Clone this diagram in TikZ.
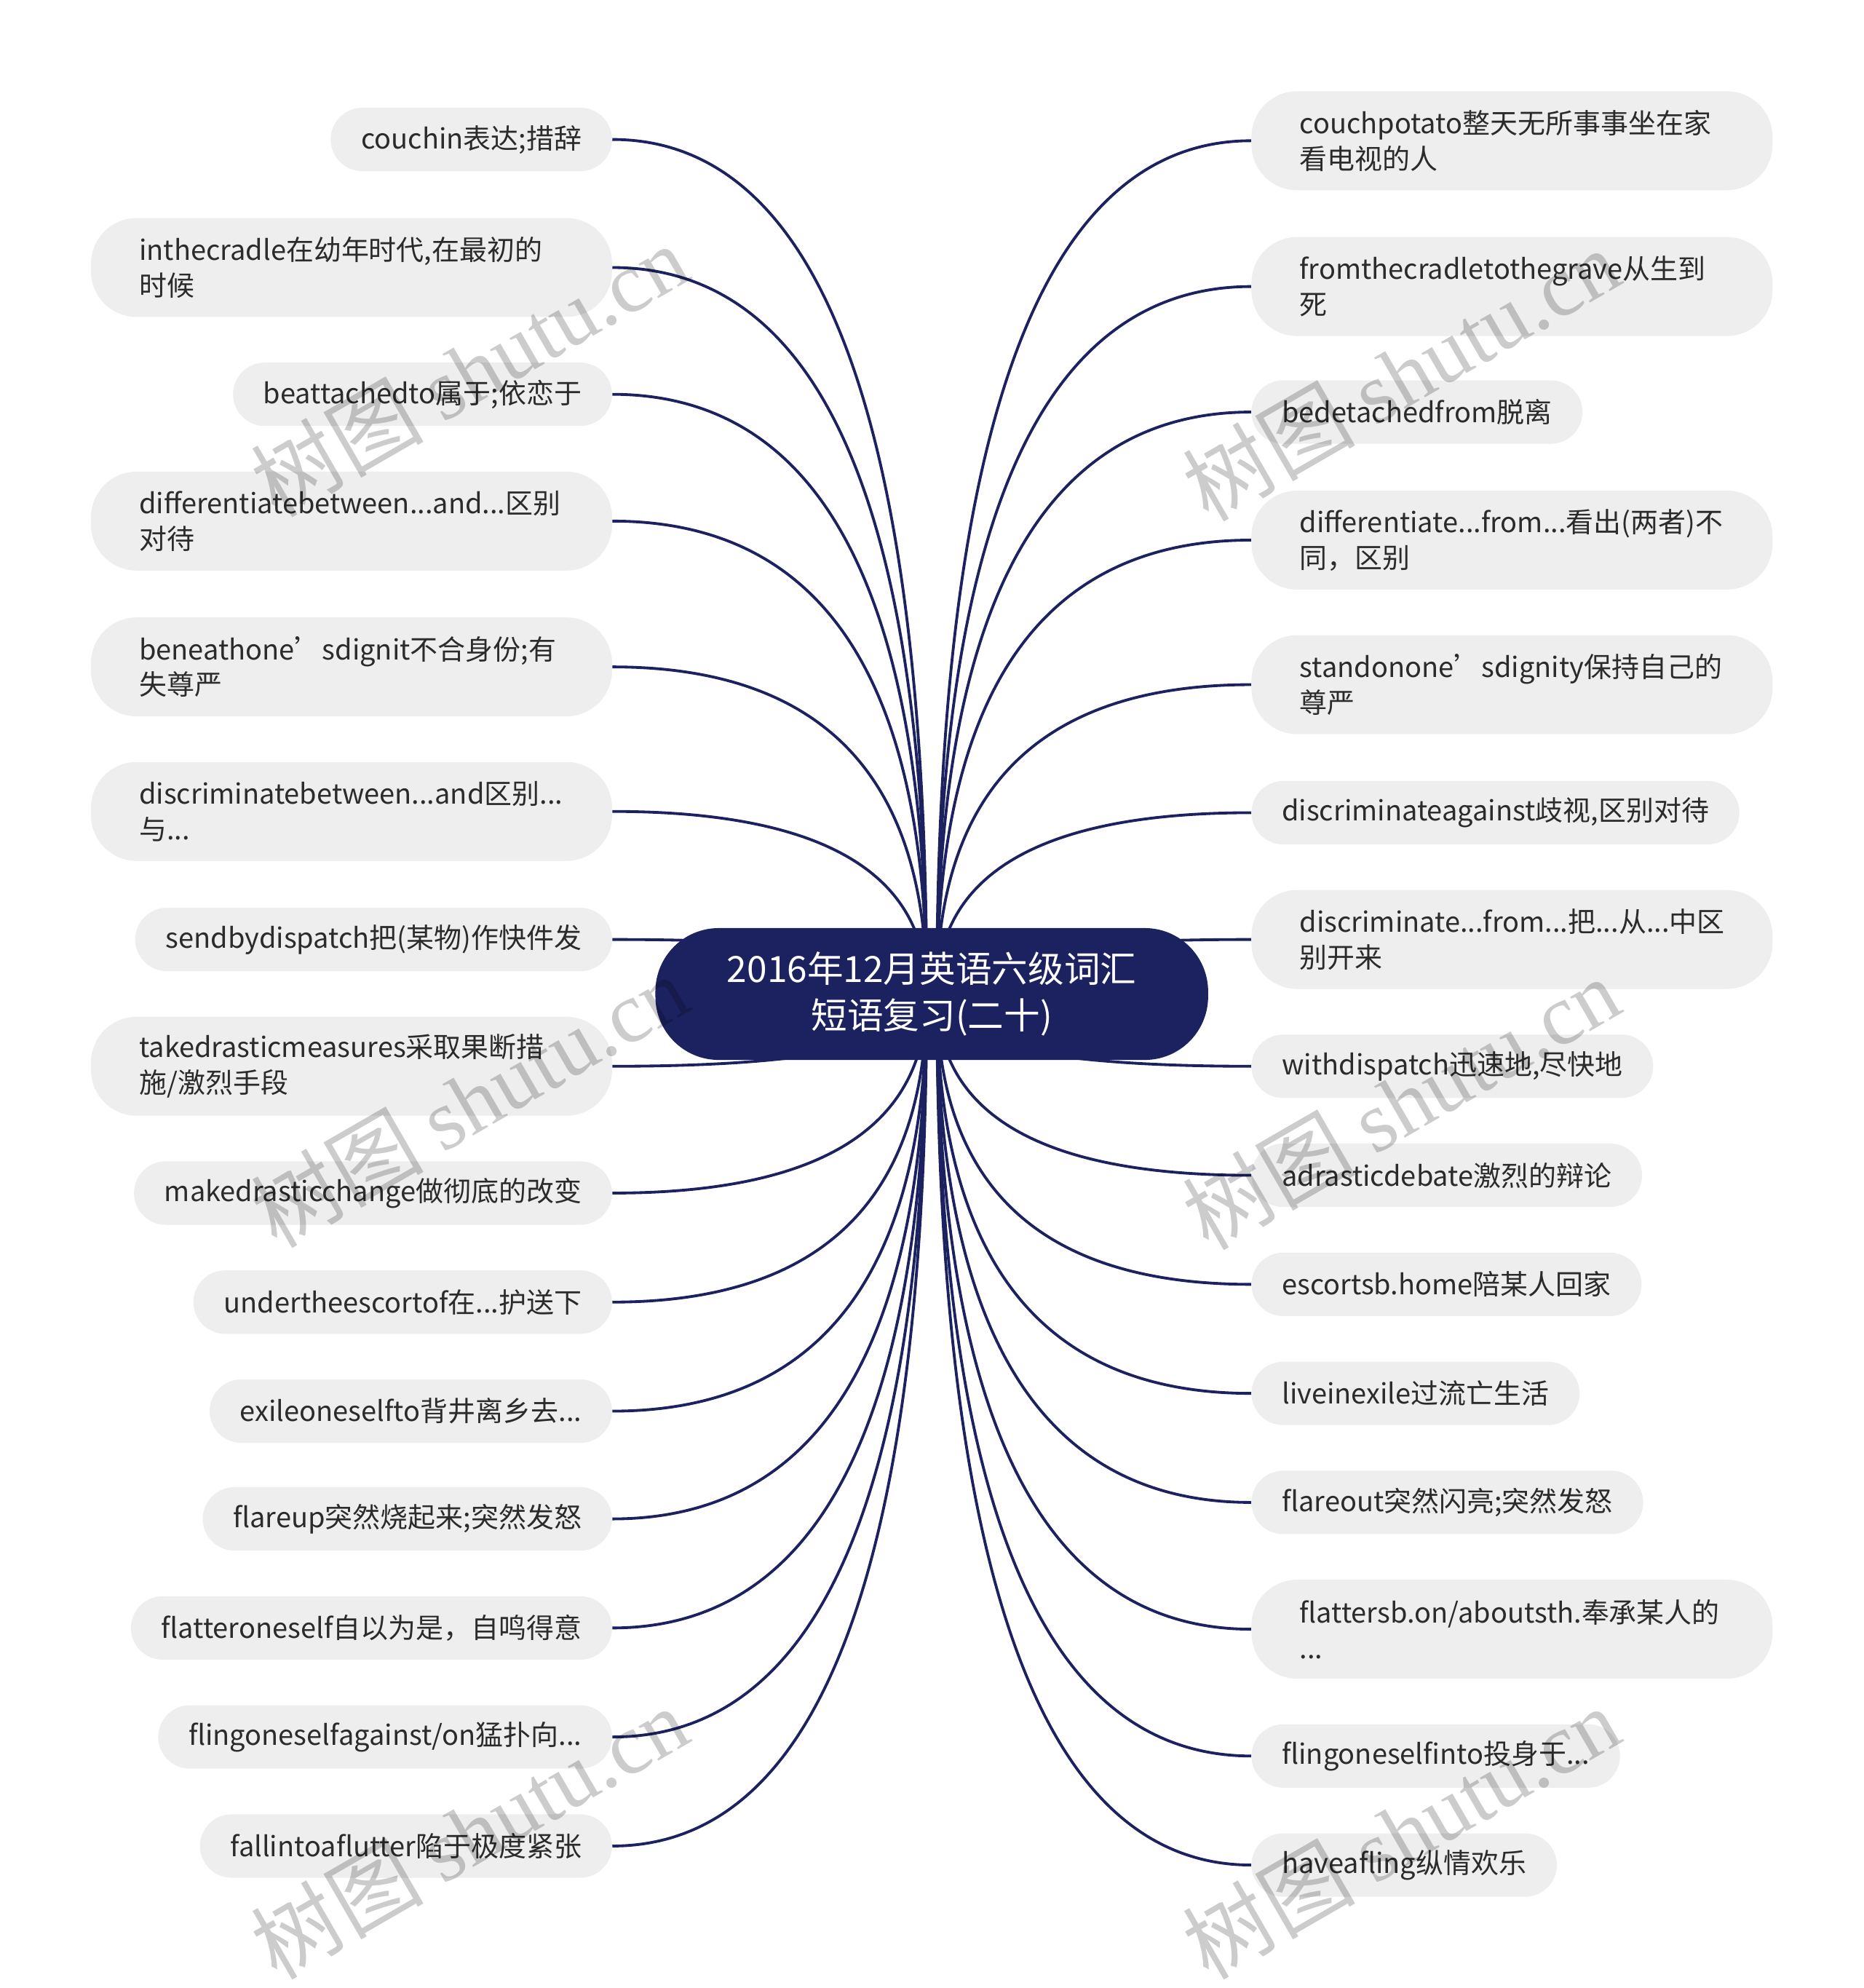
\documentclass[tikz,border=0pt]{standalone}
\usepackage{fontspec}
\setmainfont{Noto Sans CJK SC}
\newfontfamily\wmserif{Liberation Serif}
\usetikzlibrary{calc}
\definecolor{navy}{HTML}{1C2260}
\definecolor{boxgray}{HTML}{EEEEEE}
\definecolor{txt}{HTML}{2B2B2B}
\pgfdeclarelayer{bg}
\pgfsetlayers{bg,main}
\tikzset{
  leaf/.style={fill=boxgray, text=txt, font=\fontsize{21.8}{28}\selectfont,
    inner ysep=0pt, inner xsep=24pt, minimum height=50pt, rounded corners=25pt},
  leaftwo/.style={leaf, text width=335pt, align=left, inner xsep=38pt,
    minimum height=78pt, rounded corners=36pt},
  lft/.style={anchor=east},
  rgt/.style={anchor=west},
  link/.style={draw=navy, line width=2.2pt},
  root/.style={fill=navy, text=white, font=\fontsize{28.5}{37}\selectfont, align=center,
    minimum width=436pt, minimum height=104pt, inner sep=0pt, rounded corners=50pt},
  wm/.style={text=black, text opacity=0.2, font=\fontsize{68}{68}\selectfont, rotate=30, inner sep=0pt}
}
\begin{document}
\begin{tikzpicture}[x=1pt,y=-1pt]
\useasboundingbox (0,0) rectangle (1470,1568);

\node[root] (C) at (735,784) {2016年12月英语六级词汇\\短语复习(二十)};
\coordinate (cl) at ($(C.center)+(-4,0)$);
\coordinate (cr) at ($(C.center)+(4,0)$);

% left side
\node[leaf,lft] (L1) at (483,110) {couchin表达;措辞};
\node[leaftwo,lft] (L2) at (483,211) {inthecradle在幼年时代,在最初的\\时候};
\node[leaf,lft] (L3) at (483,311) {beattachedto属于;依恋于};
\node[leaftwo,lft] (L4) at (483,411) {differentiatebetween...and...区别\\对待};
\node[leaftwo,lft] (L5) at (483,526) {beneathone’sdignit不合身份;有\\失尊严};
\node[leaftwo,lft] (L6) at (483,640) {discriminatebetween...and区别...\\与...};
\node[leaf,lft] (L7) at (483,741) {sendbydispatch把(某物)作快件发};
\node[leaftwo,lft] (L8) at (483,841) {takedrasticmeasures采取果断措\\施/激烈手段};
\node[leaf,lft] (L9) at (483,941) {makedrasticchange做彻底的改变};
\node[leaf,lft] (L10) at (483,1027) {undertheescortof在...护送下};
\node[leaf,lft] (L11) at (483,1113) {exileoneselfto背井离乡去...};
\node[leaf,lft] (L12) at (483,1198) {flareup突然烧起来;突然发怒};
\node[leaf,lft] (L13) at (483,1284) {flatteroneself自以为是，自鸣得意};
\node[leaf,lft] (L14) at (483,1370) {flingoneselfagainst/on猛扑向...};
\node[leaf,lft] (L15) at (483,1456) {fallintoaflutter陷于极度紧张};

% right side
\node[leaftwo,rgt] (R1) at (987,111) {couchpotato整天无所事事坐在家\\看电视的人};
\node[leaftwo,rgt] (R2) at (987,226) {fromthecradletothegrave从生到\\死};
\node[leaf,rgt] (R3) at (987,325) {bedetachedfrom脱离};
\node[leaftwo,rgt] (R4) at (987,426) {differentiate...from...看出(两者)不\\同，区别};
\node[leaftwo,rgt] (R5) at (987,540) {standonone’sdignity保持自己的\\尊严};
\node[leaf,rgt] (R6) at (987,641) {discriminateagainst歧视,区别对待};
\node[leaftwo,rgt] (R7) at (987,741) {discriminate...from...把...从...中区\\别开来};
\node[leaf,rgt] (R8) at (987,841) {withdispatch迅速地,尽快地};
\node[leaf,rgt] (R9) at (987,927) {adrasticdebate激烈的辩论};
\node[leaf,rgt] (R10) at (987,1013) {escortsb.home陪某人回家};
\node[leaf,rgt] (R11) at (987,1099) {liveinexile过流亡生活};
\node[leaf,rgt] (R12) at (987,1185) {flareout突然闪亮;突然发怒};
\node[leaftwo,rgt] (R13) at (987,1285) {flattersb.on/aboutsth.奉承某人的\\...};
\node[leaf,rgt] (R14) at (987,1385) {flingoneselfinto投身于...};
\node[leaf,rgt] (R15) at (987,1471) {haveafling纵情欢乐};

\begin{pgfonlayer}{bg}
\fill[white] (0,0) rectangle (1470,1568);
\foreach \n in {L1,L2,L3,L4,L5,L6,L7,L8,L9,L10,L11,L12,L13,L14,L15}{
  \draw[link] (cl) .. controls ($(cl)!0.6667!(cl |- \n.east)$) and ($(\n.east)!0.6667!(cl |- \n.east)$) .. (\n.east);
}
\foreach \n in {R1,R2,R3,R4,R5,R6,R7,R8,R9,R10,R11,R12,R13,R14,R15}{
  \draw[link] (cr) .. controls ($(cr)!0.6667!(cr |- \n.west)$) and ($(\n.west)!0.6667!(cr |- \n.west)$) .. (\n.west);
}
\end{pgfonlayer}

% watermarks
\node[wm] (w1) at (370,292) {树图 {\wmserif shutu.cn}};
\node[wm] (w2) at (370,868) {树图 {\wmserif shutu.cn}};
\node[wm] (w3) at (370,1445) {树图 {\wmserif shutu.cn}};
\node[wm] (w4) at (1105,295) {树图 {\wmserif shutu.cn}};
\node[wm] (w5) at (1105,870) {树图 {\wmserif shutu.cn}};
\node[wm] (w6) at (1105,1445) {树图 {\wmserif shutu.cn}};
\end{tikzpicture}
\end{document}
